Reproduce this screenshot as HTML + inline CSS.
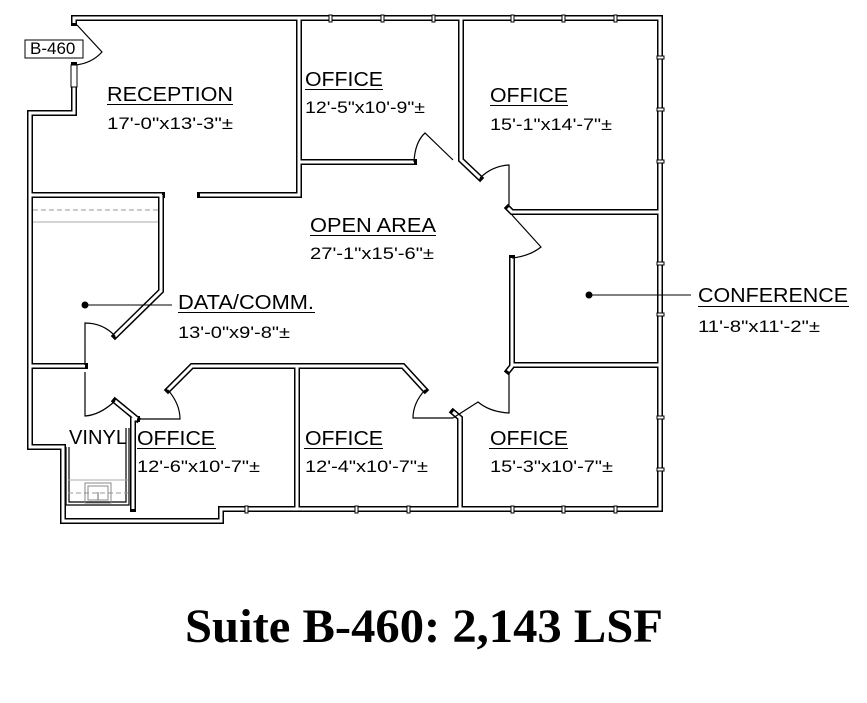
<!DOCTYPE html>
<html><head><meta charset="utf-8"><style>
html,body{margin:0;padding:0;background:#fff;}
svg{display:block;}
.w{fill:none;stroke:#000;stroke-width:6;stroke-linejoin:miter;stroke-linecap:square}
.wi{fill:none;stroke:#fff;stroke-width:3;stroke-linejoin:miter;stroke-linecap:butt}
.t{font-family:"Liberation Sans",sans-serif;font-size:20px;fill:#000}
.d{font-family:"Liberation Sans",sans-serif;font-size:17px;fill:#000}
.thin{fill:none;stroke:#000;stroke-width:1.2}
</style></head><body>
<svg width="867" height="703" viewBox="0 0 867 703" xmlns="http://www.w3.org/2000/svg">
<g>
<path class="w" d="M74,65 L74,113 L30,113 L30,447 L63,447 L63,521 L221,521 L221,509 L660,509 L660,18 L74,18 L74,23"/>
<path class="w" d="M299,18 L299,195 L200,195"/>
<path class="w" d="M162,195 L31,195"/>
<path class="w" d="M299,162 L414,162"/>
<path class="w" d="M461,18 L461,160 L480,178"/>
<path class="w" d="M660,212 L512,212 L508,208"/>
<path class="w" d="M512,258 L512,365 L660,365"/>
<path class="w" d="M512,366 L508,371"/>
<path class="w" d="M460,509 L460,418 L453,412"/>
<path class="w" d="M297,509 L297,366 L403,366 L425,390"/>
<path class="w" d="M297,366 L192,366 L168,390"/>
<path class="w" d="M137,419 L133,419 L133,509"/>
<path class="w" d="M137,419 L115,401"/>
<path class="w" d="M161,195 L161,291 L115,336"/>
<path class="w" d="M31,366 L85,366"/>
<path class="wi" d="M74,65 L74,113 L30,113 L30,447 L63,447 L63,521 L221,521 L221,509 L660,509 L660,18 L74,18 L74,23"/>
<path class="wi" d="M299,18 L299,195 L200,195"/>
<path class="wi" d="M162,195 L31,195"/>
<path class="wi" d="M299,162 L414,162"/>
<path class="wi" d="M461,18 L461,160 L480,178"/>
<path class="wi" d="M660,212 L512,212 L508,208"/>
<path class="wi" d="M512,258 L512,365 L660,365"/>
<path class="wi" d="M512,366 L508,371"/>
<path class="wi" d="M460,509 L460,418 L453,412"/>
<path class="wi" d="M297,509 L297,366 L403,366 L425,390"/>
<path class="wi" d="M297,366 L192,366 L168,390"/>
<path class="wi" d="M137,419 L133,419 L133,509"/>
<path class="wi" d="M137,419 L115,401"/>
<path class="wi" d="M161,195 L161,291 L115,336"/>
<path class="wi" d="M31,366 L85,366"/>
<path class="thin" d="M66,447 L66,505 L129,505 L129,428"/>
<path class="thin" d="M69,447 L69,502 L126,502 L126,428"/>
</g>
<g class="thin" stroke-width="1">
<path d="M77,25 L102,52 Q92,63 76,65"/>
<path d="M414,162 Q415,142 425,133 L453,160"/>
<path d="M480,178 Q492,166 509,165 L509,205"/>
<path d="M512,215 L541,247 Q530,256 512,258"/>
<path d="M509,372 L509,413 Q490,412 478,402 L453,418"/>
<path d="M425,390 Q413,403 413,418 L453,418"/>
<path d="M168,390 Q180,404 180,419 L137,419"/>
<path d="M115,401 Q100,415 85,416 L85,372"/>
<path d="M85,365 L85,323 Q103,323 115,336"/>
</g>
<g fill="#fff" stroke="#000" stroke-width="1">
<rect x="329" y="15" width="3" height="7"/><rect x="381" y="15" width="3" height="7"/><rect x="432" y="15" width="3" height="7"/><rect x="511" y="15" width="3" height="7"/><rect x="562" y="15" width="3" height="7"/><rect x="614" y="15" width="3" height="7"/>
<rect x="657" y="56" width="7" height="3"/><rect x="657" y="108" width="7" height="3"/><rect x="657" y="160" width="7" height="3"/><rect x="657" y="262" width="7" height="3"/><rect x="657" y="313" width="7" height="3"/><rect x="657" y="416" width="7" height="3"/><rect x="657" y="468" width="7" height="3"/>
<rect x="355" y="506" width="3" height="7"/><rect x="407" y="506" width="3" height="7"/><rect x="511" y="506" width="3" height="7"/><rect x="562" y="506" width="3" height="7"/><rect x="614" y="506" width="3" height="7"/><rect x="245" y="506" width="3" height="7"/>
<rect x="71" y="65" width="6" height="22"/>
</g>
<line x1="33" y1="210" x2="158" y2="210" stroke="#999" stroke-width="1" stroke-dasharray="5,3"/>
<line x1="33" y1="222" x2="158" y2="222" stroke="#aaa" stroke-width="1"/>
<line x1="68" y1="480" x2="128" y2="480" stroke="#aaa" stroke-width="1"/>
<line x1="68" y1="493" x2="128" y2="493" stroke="#999" stroke-width="1" stroke-dasharray="5,3"/>
<rect x="85" y="483" width="26" height="20" fill="none" stroke="#888" stroke-width="1"/>
<rect x="88" y="486" width="20" height="14" fill="none" stroke="#888" stroke-width="1"/>
<line x1="98" y1="492" x2="98" y2="500" stroke="#666"/>
<rect x="25" y="40" width="58" height="18" fill="#fff" stroke="#000" stroke-width="1"/>
<text x="30" y="54" class="d" font-size="14">B-460</text>
<g>
<text x="107" y="101" class="t" textLength="126" lengthAdjust="spacingAndGlyphs">RECEPTION</text><line x1="107" y1="104.5" x2="233" y2="104.5" stroke="#000"/>
<text x="107" y="129" class="d" textLength="126" lengthAdjust="spacingAndGlyphs">17'-0"x13'-3"±</text>
<text x="305" y="86" class="t" textLength="78" lengthAdjust="spacingAndGlyphs">OFFICE</text><line x1="305" y1="89.5" x2="383" y2="89.5" stroke="#000"/>
<text x="305" y="113" class="d" textLength="120" lengthAdjust="spacingAndGlyphs">12'-5"x10'-9"±</text>
<text x="490" y="102" class="t" textLength="78" lengthAdjust="spacingAndGlyphs">OFFICE</text><line x1="490" y1="105.5" x2="568" y2="105.5" stroke="#000"/>
<text x="490" y="130" class="d" textLength="122" lengthAdjust="spacingAndGlyphs">15'-1"x14'-7"±</text>
<text x="310" y="232" class="t" textLength="126" lengthAdjust="spacingAndGlyphs">OPEN AREA</text><line x1="310" y1="235.5" x2="436" y2="235.5" stroke="#000"/>
<text x="310" y="259" class="d" textLength="124" lengthAdjust="spacingAndGlyphs">27'-1"x15'-6"±</text>
<text x="178" y="309" class="t" textLength="136" lengthAdjust="spacingAndGlyphs">DATA/COMM.</text><line x1="178" y1="312.5" x2="315" y2="312.5" stroke="#000"/>
<text x="178" y="338" class="d" textLength="112" lengthAdjust="spacingAndGlyphs">13'-0"x9'-8"±</text>
<circle cx="85" cy="305" r="3.5"/><line x1="85" y1="305" x2="172" y2="305" stroke="#000"/>
<text x="698" y="302" class="t" textLength="150" lengthAdjust="spacingAndGlyphs">CONFERENCE</text><line x1="698" y1="306.5" x2="849" y2="306.5" stroke="#000"/>
<text x="698" y="332" class="d" textLength="122" lengthAdjust="spacingAndGlyphs">11'-8"x11'-2"±</text>
<circle cx="589" cy="295" r="3.5"/><line x1="589" y1="295" x2="691" y2="295" stroke="#000"/>
<text x="69" y="444" class="t" textLength="58" lengthAdjust="spacingAndGlyphs">VINYL</text>
<text x="137" y="445" class="t" textLength="78" lengthAdjust="spacingAndGlyphs">OFFICE</text><line x1="137" y1="448.5" x2="216" y2="448.5" stroke="#000"/>
<text x="137" y="472" class="d" textLength="123" lengthAdjust="spacingAndGlyphs">12'-6"x10'-7"±</text>
<text x="305" y="445" class="t" textLength="78" lengthAdjust="spacingAndGlyphs">OFFICE</text><line x1="304" y1="448.5" x2="383" y2="448.5" stroke="#000"/>
<text x="305" y="472" class="d" textLength="123" lengthAdjust="spacingAndGlyphs">12'-4"x10'-7"±</text>
<text x="490" y="445" class="t" textLength="78" lengthAdjust="spacingAndGlyphs">OFFICE</text><line x1="489" y1="448.5" x2="568" y2="448.5" stroke="#000"/>
<text x="490" y="472" class="d" textLength="123" lengthAdjust="spacingAndGlyphs">15'-3"x10'-7"±</text>
<text x="185" y="642" font-family="Liberation Serif,serif" font-weight="bold" font-size="48" textLength="478" lengthAdjust="spacingAndGlyphs">Suite B-460: 2,143 LSF</text>
</g>
</svg>
</body></html>
